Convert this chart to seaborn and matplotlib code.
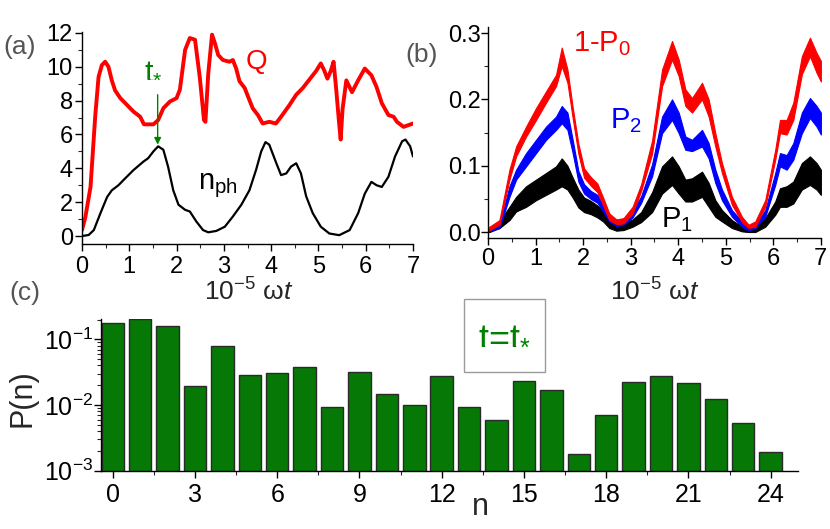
import matplotlib
matplotlib.use('Agg')
import matplotlib.pyplot as plt
import seaborn as sns
from matplotlib.ticker import MultipleLocator, FixedLocator, NullFormatter
from matplotlib.patches import Rectangle

# ---- panel (a): Q and n_ph vs time (units of 1e5 / omega)
t_q = [0, 0.07, 0.18, 0.28, 0.35, 0.42, 0.49, 0.56, 0.63, 0.70,
       0.81, 0.95, 1.09, 1.23, 1.31, 1.51, 1.61, 1.72, 1.86, 2.0,
       2.07, 2.18, 2.28, 2.39, 2.49, 2.58, 2.61, 2.67, 2.75, 2.81,
       2.88, 2.98, 3.12, 3.19, 3.26, 3.33, 3.44, 3.51, 3.61, 3.72,
       3.82, 3.96, 4.10, 4.21, 4.39, 4.53, 4.67, 4.81, 4.95, 5.05,
       5.12, 5.19, 5.26, 5.32, 5.37, 5.43, 5.47, 5.51, 5.59, 5.71,
       5.84, 5.98, 6.12, 6.23, 6.34, 6.48, 6.59, 6.66, 6.80, 6.90, 7.0]
q_vals = [0.35, 1.1, 2.9, 7.1, 9.4, 10.1, 10.3, 10.0, 9.2, 8.6,
          8.15, 7.75, 7.35, 7.05, 6.6, 6.6, 6.85, 7.55, 7.95, 8.15,
          8.65, 11.0, 11.7, 11.6, 9.4, 6.85, 6.75, 9.6, 11.9, 11.4,
          10.7, 10.4, 10.3, 10.4, 9.9, 9.15, 8.75, 8.25, 7.55, 7.15,
          6.65, 6.75, 6.65, 7.05, 7.75, 8.35, 8.75, 9.25, 9.75, 10.2,
          9.8, 9.3, 9.75, 10.3, 8.85, 6.9, 5.7, 7.5, 9.2, 8.5,
          9.2, 9.9, 9.5, 8.8, 7.85, 7.15, 7.05, 6.75, 6.45, 6.55, 6.65]

t_nph = [0, 0.14, 0.25, 0.39, 0.53, 0.63, 0.77, 0.91, 1.09, 1.30,
         1.40, 1.51, 1.61, 1.72, 1.82, 1.93, 2.04, 2.18, 2.28, 2.42,
         2.56, 2.67, 2.84, 3.02, 3.19, 3.37, 3.54, 3.68, 3.79, 3.88,
         3.96, 4.11, 4.21, 4.32, 4.42, 4.53, 4.63, 4.74, 4.88, 5.05,
         5.23, 5.44, 5.66, 5.84, 5.98, 6.12, 6.23, 6.34, 6.48, 6.62,
         6.77, 6.84, 6.94, 7.0]
nph_vals = [0, 0.06, 0.35, 1.35, 2.3, 2.7, 3.0, 3.4, 3.9, 4.4,
            4.6, 5.0, 5.3, 5.1, 4.1, 2.7, 1.85, 1.55, 1.45, 0.85,
            0.35, 0.22, 0.3, 0.55, 1.15, 1.85, 2.7, 3.9, 5.0, 5.55,
            5.4, 4.3, 3.6, 3.7, 4.1, 4.3, 3.7, 2.35, 1.35, 0.55,
            0.15, 0.05, 0.35, 1.35, 2.5, 3.2, 3.0, 2.9, 3.5, 4.7,
            5.6, 5.7, 5.3, 4.7]
t_star = 1.6

# ---- panel (b): probability bands (lower / upper envelope)
t_b = [0.0, 0.03, 0.24, 0.45, 0.59, 0.80, 1.01, 1.22, 1.43, 1.55,
       1.67, 1.78, 1.90, 2.02, 2.16, 2.30, 2.42, 2.55, 2.70, 2.85,
       3.04, 3.22, 3.45, 3.66, 3.87, 4.01, 4.15, 4.29, 4.50, 4.64,
       4.78, 4.92, 5.13, 5.34, 5.48, 5.62, 5.83, 6.04, 6.14, 6.28,
       6.42, 6.60, 6.77, 6.91, 7.0]
p0_lo = [0.003, 0.003, 0.011, 0.079, 0.114, 0.144, 0.169, 0.195, 0.220, 0.250,
         0.225, 0.172, 0.118, 0.082, 0.070, 0.060, 0.040, 0.018, 0.012, 0.013,
         0.028, 0.062, 0.118, 0.220, 0.260, 0.235, 0.190, 0.180, 0.200, 0.174,
         0.129, 0.089, 0.041, 0.015, 0.006, 0.008, 0.038, 0.109, 0.149, 0.147,
         0.169, 0.238, 0.265, 0.240, 0.227]
p0_hi = [0.007, 0.008, 0.018, 0.094, 0.129, 0.159, 0.187, 0.212, 0.237, 0.278,
         0.245, 0.188, 0.133, 0.096, 0.083, 0.073, 0.052, 0.028, 0.019, 0.021,
         0.038, 0.072, 0.138, 0.245, 0.288, 0.260, 0.215, 0.202, 0.225, 0.200,
         0.149, 0.104, 0.053, 0.023, 0.011, 0.016, 0.048, 0.124, 0.169, 0.169,
         0.195, 0.265, 0.293, 0.270, 0.258]
p2_lo = [0.001, 0.002, 0.006, 0.053, 0.079, 0.099, 0.119, 0.139, 0.154, 0.164,
         0.154, 0.119, 0.076, 0.058, 0.050, 0.044, 0.031, 0.016, 0.009, 0.011,
         0.022, 0.044, 0.084, 0.149, 0.169, 0.149, 0.124, 0.122, 0.129, 0.111,
         0.074, 0.048, 0.023, 0.008, 0.002, 0.006, 0.023, 0.071, 0.099, 0.094,
         0.109, 0.149, 0.172, 0.159, 0.147]
p2_hi = [0.004, 0.005, 0.011, 0.069, 0.094, 0.119, 0.139, 0.159, 0.174, 0.190,
         0.180, 0.139, 0.092, 0.072, 0.062, 0.056, 0.041, 0.023, 0.016, 0.019,
         0.032, 0.054, 0.102, 0.174, 0.200, 0.180, 0.144, 0.139, 0.154, 0.134,
         0.094, 0.064, 0.033, 0.016, 0.008, 0.012, 0.033, 0.089, 0.119, 0.116,
         0.134, 0.180, 0.202, 0.190, 0.180]
p1_lo = [0.000, 0.000, 0.006, 0.018, 0.031, 0.038, 0.048, 0.056, 0.064, 0.069,
         0.064, 0.052, 0.037, 0.030, 0.027, 0.022, 0.016, 0.006, 0.002, 0.003,
         0.008, 0.015, 0.030, 0.058, 0.071, 0.058, 0.046, 0.046, 0.053, 0.038,
         0.023, 0.016, 0.006, 0.001, 0.000, 0.000, 0.008, 0.026, 0.038, 0.038,
         0.043, 0.064, 0.071, 0.064, 0.056]
p1_hi = [0.004, 0.005, 0.016, 0.038, 0.053, 0.069, 0.079, 0.089, 0.099, 0.111,
         0.100, 0.082, 0.064, 0.052, 0.047, 0.040, 0.033, 0.018, 0.012, 0.013,
         0.019, 0.030, 0.060, 0.099, 0.114, 0.099, 0.079, 0.081, 0.091, 0.074,
         0.048, 0.033, 0.018, 0.008, 0.004, 0.007, 0.021, 0.046, 0.066, 0.069,
         0.076, 0.104, 0.114, 0.104, 0.094]

# ---- panel (c): photon number distribution at t = t*
n_levels = list(range(25))
p_n = [0.179, 0.202, 0.161, 0.0195, 0.078, 0.0286, 0.0304, 0.0375, 0.0093, 0.0321,
       0.0147, 0.0099, 0.0272, 0.0094, 0.0059, 0.0232, 0.0169, 0.00182, 0.00697, 0.0224,
       0.0276, 0.0216, 0.0122, 0.0053, 0.0019]

RED = '#ff0000'
BLUE = '#0000ff'
GREEN = '#008000'
BAR_GREEN = '#067806'
GRAY = '#555555'

sns.set_style('ticks')
plt.rcParams['font.family'] = ['Liberation Sans', 'DejaVu Sans']
plt.rcParams.update({
    'mathtext.fontset': 'custom',
    'mathtext.rm': 'Liberation Sans',
    'mathtext.it': 'Liberation Sans:italic',
    'mathtext.sf': 'Liberation Sans',
    'axes.linewidth': 1.0,
    'axes.edgecolor': 'black',
    'lines.solid_joinstyle': 'round',
})

fig = plt.figure(figsize=(8.3, 5.29), dpi=100)


def style_axis(ax, size):
    sns.despine(ax=ax)
    ax.tick_params(which='major', direction='out', length=5, width=1,
                   labelsize=size, colors='black')
    ax.tick_params(which='minor', direction='out', length=3, width=0.8)
    ax.set_xlabel('')
    ax.set_ylabel('')


# (a)
ax_a = fig.add_axes([0.0988, 0.5388, 0.3988, 0.4008])
sns.lineplot(x=t_q, y=q_vals, color=RED, lw=2.8, estimator=None,
             sort=False, ax=ax_a)
sns.lineplot(x=t_nph, y=nph_vals, color='black', lw=1.6, estimator=None,
             sort=False, ax=ax_a)
ax_a.set_xlim(0, 7)
ax_a.set_ylim(-0.47, 12.06)
ax_a.xaxis.set_major_locator(MultipleLocator(1))
ax_a.xaxis.set_minor_locator(MultipleLocator(0.5))
ax_a.yaxis.set_major_locator(MultipleLocator(2))
ax_a.yaxis.set_minor_locator(MultipleLocator(1))
style_axis(ax_a, 17)
ax_a.tick_params(axis='x', which='major', pad=4)
ax_a.tick_params(axis='y', which='major', pad=1.5)
ax_a.text(3.68, 10.3, 'Q', color=RED, fontsize=20, ha='center', va='center')
ax_a.text(1.5, 9.9, r't$_{*}$', color=GREEN, fontsize=22, ha='center', va='center')
ax_a.annotate('', xy=(t_star, 5.4), xytext=(t_star, 8.35),
              arrowprops=dict(arrowstyle='-|>', color=GREEN, lw=1.0,
                              mutation_scale=10, shrinkA=0, shrinkB=0))
ax_a.text(2.45, 3.0, r'n$_{\mathregular{ph}}$', color='black', fontsize=21,
          ha='left', va='center')

# (b)
ax_b = fig.add_axes([0.588, 0.5501, 0.401, 0.3994])
for lo, hi, col in [(p1_lo, p1_hi, 'black'), (p2_lo, p2_hi, BLUE),
                    (p0_lo, p0_hi, RED)]:
    ax_b.fill_between(t_b, lo, hi, color=col, lw=0.8, edgecolor=col,
                      joinstyle='round')
ax_b.set_xlim(0, 7)
ax_b.set_ylim(-0.009, 0.3095)
ax_b.xaxis.set_major_locator(MultipleLocator(1))
ax_b.xaxis.set_minor_locator(MultipleLocator(0.5))
ax_b.yaxis.set_major_locator(MultipleLocator(0.1))
ax_b.yaxis.set_minor_locator(MultipleLocator(0.05))
ax_b.yaxis.set_major_formatter(matplotlib.ticker.FormatStrFormatter('%.1f'))
style_axis(ax_b, 17)
ax_b.tick_params(axis='x', which='major', pad=2)
ax_b.tick_params(axis='y', which='major', pad=0.5)
ax_b.text(1.79, 0.284, r'1-P$_{\mathregular{0}}$', color=RED, fontsize=21,
          ha='left', va='center')
ax_b.text(2.9, 0.168, r'P$_{\mathregular{2}}$', color=BLUE, fontsize=21,
          ha='center', va='center')
ax_b.text(3.97, 0.019, r'P$_{\mathregular{1}}$', color='black', fontsize=21,
          ha='center', va='center')

for xc in (249, 655):
    fig.text(xc / 830, 1 - 292 / 529, r'10$^{\mathregular{-5}}$ ω$\mathit{t}$',
             fontsize=19, ha='center', va='center')

# (c)
ax_c = fig.add_axes([0.1217, 0.1102, 0.8398, 0.2868])
sns.barplot(x=n_levels, y=p_n, color=BAR_GREEN, saturation=1, width=0.82,
            edgecolor='#2a2a2a', linewidth=1, ax=ax_c)
ax_c.set_yscale('log')
ax_c.set_ylim(1e-3, 0.204)
ax_c.set_xlim(-0.43, 25.0)
ax_c.xaxis.set_major_locator(FixedLocator(range(0, 25, 3)))
ax_c.xaxis.set_major_formatter(matplotlib.ticker.FormatStrFormatter('%d'))
ax_c.xaxis.set_minor_locator(MultipleLocator(1.5))
ax_c.xaxis.set_minor_formatter(NullFormatter())
style_axis(ax_c, 18)
ax_c.tick_params(axis='x', which='major', pad=4)
ax_c.tick_params(axis='y', which='major', pad=1)
fig.text(23 / 830, 1 - 398 / 529, 'P(n)', rotation=90, fontsize=22,
         ha='center', va='center')
fig.text(480 / 830, 1 - 507 / 529, 'n', fontsize=22, ha='center', va='center')

# t = t* legend box
fig.add_artist(Rectangle((464 / 830, 1 - 372 / 529), 81 / 830, 73 / 529,
                         transform=fig.transFigure, facecolor='white',
                         edgecolor='#9a9a9a', lw=1.0, zorder=5))
fig.text(504.5 / 830, 1 - 335 / 529, r't=t$_{*}$', color=GREEN, fontsize=26,
         ha='center', va='center', zorder=6)

# panel letters
fig.text(20 / 830, 1 - 47 / 529, '(a)', color=GRAY, fontsize=19, ha='center', va='center')
fig.text(422 / 830, 1 - 55 / 529, '(b)', color=GRAY, fontsize=19, ha='center', va='center')
fig.text(25 / 830, 1 - 293 / 529, '(c)', color=GRAY, fontsize=19, ha='center', va='center')

fig.savefig('out.png', dpi=100)
